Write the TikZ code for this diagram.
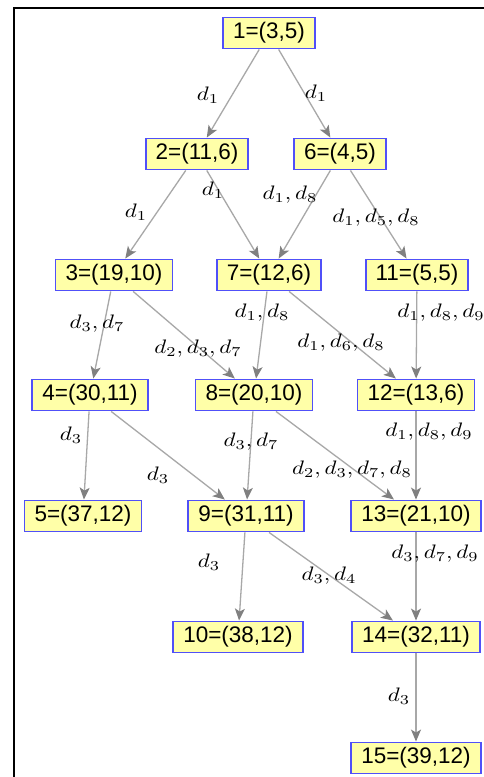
\documentclass[tikz,border=0pt]{standalone}
\usepackage{graphicx}
\usepackage{fontspec}
\setmainfont{Liberation Sans}
\usetikzlibrary{arrows.meta}
\definecolor{boxfill}{HTML}{FFFFA8}
\definecolor{boxline}{HTML}{5050F8}
\definecolor{edgecol}{HTML}{A8A8A8}
\definecolor{tipcol}{HTML}{808080}
\newcommand{\elab}[1]{\scalebox{2.3}[1.95]{$#1$}}
\tikzset{
  state/.style={draw=boxline, fill=boxfill, line width=1.9pt, minimum height=31pt, inner xsep=10pt, inner ysep=0pt,
    font=\fontsize{22.5}{25}\selectfont},
  edge/.style={draw=edgecol, line width=1.3pt, -{Stealth[length=12pt,width=10pt,inset=3pt,color=tipcol]}},
  lbl/.style={inner sep=0pt}
}
\begin{document}
\begin{tikzpicture}[x=1pt,y=-1pt]
\useasboundingbox (0,0) rectangle (484,777);
\fill[white] (0,0) rectangle (484,777);
\draw[line width=2.2pt, line cap=rect] (14,777) -- (14,8) -- (484,8);

\node[state] (n1) at (269,33) {1=(3,5)};
\node[state] (n2) at (197,154) {2=(11,6)};
\node[state] (n6) at (340,154) {6=(4,5)};
\node[state] (n3) at (114,275) {3=(19,10)};
\node[state] (n7) at (269,275) {7=(12,6)};
\node[state] (n11) at (417,275) {11=(5,5)};
\node[state] (n4) at (90,395) {4=(30,11)};
\node[state] (n8) at (254,395) {8=(20,10)};
\node[state] (n12) at (416,395) {12=(13,6)};
\node[state] (n5) at (83,516) {5=(37,12)};
\node[state] (n9) at (246,516) {9=(31,11)};
\node[state] (n13) at (416,516) {13=(21,10)};
\node[state] (n10) at (238,637) {10=(38,12)};
\node[state] (n14) at (416,637) {14=(32,11)};
\node[state] (n15) at (416,758) {15=(39,12)};

\path[edge] (n1) -- (n2);
\path[edge] (n1) -- (n6);
\path[edge] (n2) -- (n3);
\path[edge] (n2) -- (n7);
\path[edge] (n6) -- (n7);
\path[edge] (n6) -- (n11);
\path[edge] (n3) -- (n4);
\path[edge] (n3) -- (n8);
\path[edge] (n7) -- (n8);
\path[edge] (n7) -- (n12);
\path[edge] (n11) -- (n12);
\path[edge] (n4) -- (n5);
\path[edge] (n4) -- (n9);
\path[edge] (n8) -- (n9);
\path[edge] (n8) -- (n13);
\path[edge] (n12) -- (n13);
\path[edge] (n9) -- (n10);
\path[edge] (n9) -- (n14);
\path[edge] (n13) -- (n14);
\path[edge] (n14) -- (n15);

\node[lbl] (l12) at (208,95) {\elab{d_1}};
\node[lbl] (l16) at (316,93) {\elab{d_1}};
\node[lbl] (l23) at (136,212) {\elab{d_1}};
\node[lbl] (l27) at (213,190) {\elab{d_1}};
\node[lbl] (l67) at (290,195) {\elab{d_1,d_8}};
\node[lbl] (l611) at (376,218) {\elab{d_1,d_5,d_8}};
\node[lbl] (l34) at (97,324) {\elab{d_3,d_7}};
\node[lbl] (l38) at (198,349) {\elab{d_2,d_3,d_7}};
\node[lbl] (l78) at (262,313) {\elab{d_1,d_8}};
\node[lbl] (l712) at (341,343) {\elab{d_1,d_6,d_8}};
\node[lbl] (l1112) at (441,313) {\elab{d_1,d_8,d_9}};
\node[lbl] (l45) at (71,435) {\elab{d_3}};
\node[lbl] (l49) at (158,475) {\elab{d_3}};
\node[lbl] (l89) at (251,442) {\elab{d_3,d_7}};
\node[lbl] (l813) at (352,470) {\elab{d_2,d_3,d_7,d_8}};
\node[lbl] (l1213) at (429,432) {\elab{d_1,d_8,d_9}};
\node[lbl] (l910) at (209,562) {\elab{d_3}};
\node[lbl] (l914) at (329,576) {\elab{d_3,d_4}};
\node[lbl] (l1314) at (435,554) {\elab{d_3,d_7,d_9}};
\node[lbl] (l1415) at (399,696) {\elab{d_3}};
\end{tikzpicture}
\end{document}
